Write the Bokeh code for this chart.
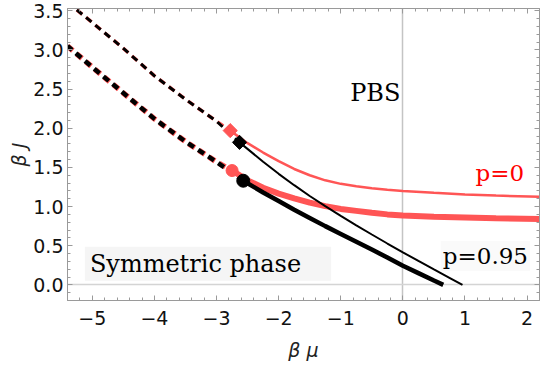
from bokeh.plotting import figure
from bokeh.models import (LinearAxis, SingleIntervalTicker, FixedTicker, Label,
                          Range1d, CustomJSTickFormatter)
from bokeh.embed import file_html
from bokeh.resources import INLINE

# ---------------- data ----------------
# dashed continuations, p=0 (red) and p=0.95 (black)
dash_up_red_x = [-5.4, -5.0, -4.5, -4.0, -3.5, -3.0, -2.78]
dash_up_red_y = [3.61, 3.35, 3.02, 2.67, 2.37, 2.09, 1.97]
dash_up_blk_x = [-5.4, -5.0, -4.5, -4.0, -3.5, -3.0, -2.63]
dash_up_blk_y = [3.61, 3.35, 3.02, 2.67, 2.37, 2.09, 1.82]

dash_lo_red_x = [-5.4, -5.0, -4.5, -4.0, -3.5, -3.0, -2.75]
dash_lo_red_y = [3.05, 2.78, 2.45, 2.12, 1.83, 1.57, 1.46]
dash_lo_blk_x = [-5.4, -5.0, -4.5, -4.0, -3.5, -3.0, -2.57]
dash_lo_blk_y = [3.05, 2.78, 2.45, 2.12, 1.83, 1.57, 1.33]

# p = 0 (red) solid branches
red_thin_x = [-2.78, -2.5, -2.25, -2.0, -1.75, -1.5, -1.25, -1.0, -0.75, -0.5,
              -0.25, 0.0, 0.5, 1.0, 1.5, 2.2]
red_thin_y = [1.97, 1.81, 1.69, 1.58, 1.48, 1.40, 1.335, 1.29, 1.26, 1.235,
              1.215, 1.20, 1.175, 1.155, 1.14, 1.125]
red_thick_x = [-2.75, -2.5, -2.25, -2.0, -1.75, -1.5, -1.25, -1.0, -0.75, -0.5,
               -0.25, 0.0, 0.5, 1.0, 1.5, 2.2]
red_thick_y = [1.46, 1.335, 1.24, 1.165, 1.105, 1.05, 1.005, 0.97, 0.945, 0.92,
               0.90, 0.885, 0.87, 0.86, 0.85, 0.84]

# p = 0.95 (black) solid branches
blk_thin_x = [-2.63, -2.25, -2.0, -1.75, -1.5, -1.25, -1.0, -0.75, -0.5, -0.25,
              0.0, 0.25, 0.5, 0.75, 0.96]
blk_thin_y = [1.82, 1.573, 1.418, 1.273, 1.135, 1.005, 0.88, 0.76, 0.643, 0.528,
              0.415, 0.305, 0.197, 0.09, 0.0]
blk_thick_x = [-2.57, -2.25, -2.0, -1.75, -1.5, -1.25, -1.0, -0.75, -0.5, -0.25,
               0.0, 0.25, 0.5, 0.65]
blk_thick_y = [1.33, 1.18, 1.07, 0.96, 0.855, 0.75, 0.65, 0.55, 0.45, 0.35,
               0.245, 0.15, 0.055, 0.0]

# end points (markers)
red_diamond = (-2.78, 1.97)
blk_diamond = (-2.63, 1.82)
red_circle = (-2.75, 1.46)
blk_circle = (-2.57, 1.33)

RED = "#ff5555"
GRAY = "#9a9a9a"

p = figure(width=540, height=366, x_range=Range1d(-5.4, 2.2),
           y_range=Range1d(-0.2, 3.53), output_backend="svg",
           toolbar_location=None, min_border_left=67, min_border_right=1,
           min_border_top=8, min_border_bottom=66,
           x_axis_label="β μ", y_axis_label="β J")
p.outline_line_color = GRAY
p.background_fill_color = "white"

bottom_ax = p.below[0]
left_ax = p.left[0]

# axes
bottom_ax.ticker = SingleIntervalTicker(interval=1, num_minor_ticks=5)
left_ax.ticker = SingleIntervalTicker(interval=0.5, num_minor_ticks=5)
bottom_ax.formatter = CustomJSTickFormatter(
    code="return tick < 0 ? '\u2212' + String(-tick) : String(tick);")
left_ax.formatter = CustomJSTickFormatter(code="return tick.toFixed(1);")

top_ax = LinearAxis(ticker=SingleIntervalTicker(interval=1, num_minor_ticks=5),
                    formatter=CustomJSTickFormatter(code="return '';"))
right_ax = LinearAxis(ticker=SingleIntervalTicker(interval=0.5, num_minor_ticks=5),
                      formatter=CustomJSTickFormatter(code="return '';"))
p.add_layout(top_ax, "above")
p.add_layout(right_ax, "right")
for ax in (top_ax, right_ax):
    ax.major_label_standoff = 0

for ax in (bottom_ax, left_ax, top_ax, right_ax):
    ax.axis_line_color = GRAY
    ax.major_tick_line_color = GRAY
    ax.minor_tick_line_color = GRAY
    ax.major_tick_in = 5
    ax.major_tick_out = 0
    ax.minor_tick_in = 3
    ax.minor_tick_out = 0

for ax in (bottom_ax, left_ax):
    ax.major_label_text_font = "DejaVu Sans"
    ax.major_label_text_font_size = "19px"
    ax.major_label_text_color = "#111111"
    ax.axis_label_text_font = "DejaVu Sans"
    ax.axis_label_text_font_style = "italic"
    ax.axis_label_text_font_size = "19px"
    ax.axis_label_text_color = "#222222"
bottom_ax.major_label_standoff = 10
bottom_ax.axis_label_standoff = 11
left_ax.major_label_standoff = 4
left_ax.axis_label_standoff = 0

# grid only at 0
p.xgrid.ticker = FixedTicker(ticks=[0])
p.ygrid.ticker = FixedTicker(ticks=[0])
p.xgrid.grid_line_color = "#c4c4c4"
p.xgrid.grid_line_width = 1.5
p.ygrid.grid_line_color = "#d4d4d4"
p.ygrid.grid_line_width = 1.5

# dashed lines
p.line(dash_up_red_x, dash_up_red_y, line_color=RED, line_width=3.5, line_dash="7 5")
p.line(dash_up_blk_x, dash_up_blk_y, line_color="black", line_width=3,
       line_dash="7 5")
p.line(dash_lo_red_x, dash_lo_red_y, line_color=RED, line_width=5.5, line_dash="7 5")
p.line(dash_lo_blk_x, dash_lo_blk_y, line_color="black", line_width=4.5,
       line_dash="7 5", line_dash_offset=1)

# solid lines
p.line(red_thin_x, red_thin_y, line_color=RED, line_width=2.5)
p.line(red_thick_x, red_thick_y, line_color=RED, line_width=6)
p.line(blk_thin_x, blk_thin_y, line_color="black", line_width=2)
p.line(blk_thick_x, blk_thick_y, line_color="black", line_width=4.5)

# markers
p.scatter([red_diamond[0]], [red_diamond[1]], marker="square", angle=0.785398,
          size=10, fill_color=RED, line_color=RED)
p.scatter([red_circle[0]], [red_circle[1]], marker="circle",
          size=12, fill_color=RED, line_color=RED)
p.scatter([blk_diamond[0]], [blk_diamond[1]], marker="square", angle=0.785398,
          size=10, fill_color="black", line_color="black")
p.scatter([blk_circle[0]], [blk_circle[1]], marker="circle",
          size=13, fill_color="black", line_color="black")

# labels
p.add_layout(Label(x=-0.04, y=2.45, text="PBS", text_align="right",
                   text_baseline="alphabetic", text_font="DejaVu Serif",
                   text_font_size="24px", text_color="black"))
p.add_layout(Label(x=1.17, y=1.43, text="p=0", text_align="left",
                   text_baseline="alphabetic", text_font="DejaVu Serif",
                   text_font_size="23px", text_color="#ff0000"))
p.add_layout(Label(x=0.61, y=0.37, text="p=0.95", text_align="left",
                   text_baseline="alphabetic", text_font="DejaVu Serif",
                   text_font_size="23px", text_color="black",
                   background_fill_color="#fafafa",
                   padding=dict(left=2, right=2, top=2, bottom=2)))
p.add_layout(Label(x=-5.12, y=0.27, text="Symmetric phase", text_align="left",
                   text_baseline="alphabetic", text_font="DejaVu Serif",
                   text_font_size="24px", text_color="black",
                   background_fill_color="#f5f5f5",
                   padding=dict(left=5, right=30, top=3, bottom=3)))

open("out.html", "w").write(file_html(p, INLINE))
